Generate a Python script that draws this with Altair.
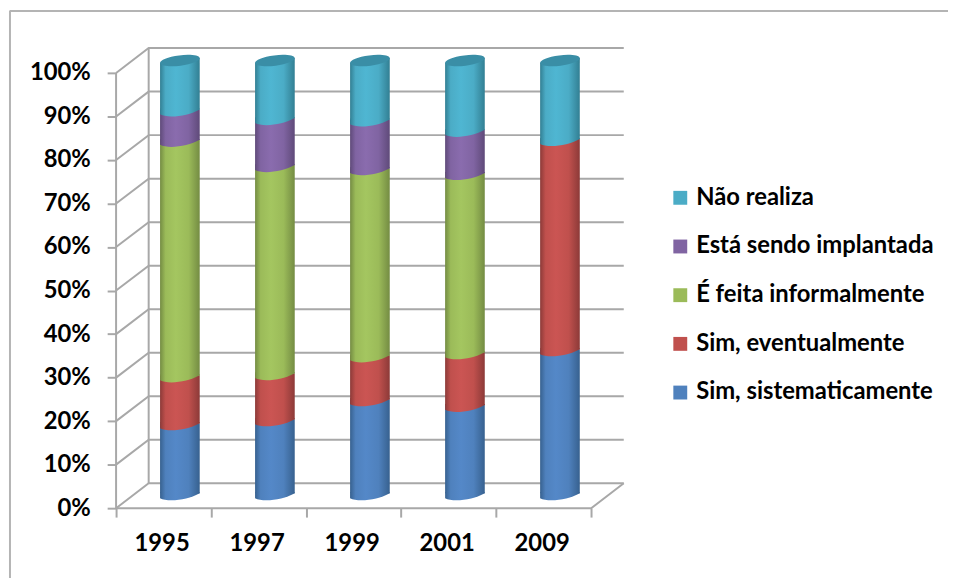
import altair as alt
import pandas as pd

years = ["1995", "1997", "1999", "2001", "2009"]
sistematicamente = [16.1, 17.0, 21.6, 20.3, 33.1]
eventualmente = [11.0, 10.6, 10.1, 12.1, 48.3]
informalmente = [54.1, 47.8, 43.0, 41.2, 0.0]
implantada = [7.0, 10.8, 11.2, 9.9, 0.0]
nao_realiza = [11.8, 13.8, 14.1, 16.5, 18.6]

series_names = ["Sim, sistematicamente", "Sim, eventualmente", "É feita informalmente",
                "Está sendo implantada", "Não realiza"]
series_values = [sistematicamente, eventualmente, informalmente, implantada, nao_realiza]
base_colors = ["#4f81bd", "#c0504d", "#9bbb59", "#8064a2", "#4bacc6"]
light_colors = ["#5488c8", "#cb5553", "#a4c660", "#8a6cae", "#4fb6d2"]
dark_colors = ["#37618f", "#8c3a38", "#748c43", "#5f4a79", "#327f93"]
cap_colors = ["#3a8ea6"]
legend_order = ["Não realiza", "Está sendo implantada", "É feita informalmente",
                "Sim, eventualmente", "Sim, sistematicamente"]
grid_ticks = [0, 10, 20, 30, 40, 50, 60, 70, 80, 90, 100]

# 3D depth of the box, in axis units
DX = 0.343
DY = 5.72
TILT = 0.57
GRID = "#a8a8a8"
FONT = "Lato"

xscale = alt.Scale(domain=[0, 5 + DX], nice=False, zero=False, padding=0)
yscale = alt.Scale(domain=[0, 100 + DY], nice=False, zero=False, padding=0)
xaxis = alt.Axis(values=list(range(6)), labels=False, title=None, domain=False, grid=False,
                 tickSize=9, tickWidth=2, tickColor=GRID)
yaxis = alt.Axis(values=grid_ticks, labelExpr="datum.value + '%'", title=None, domain=False, grid=False,
                 tickSize=9, tickWidth=2, tickColor=GRID, labelFont=FONT, labelFontWeight="bold",
                 labelFontSize=24, labelColor="black", labelPadding=17)
X = lambda f="x": alt.X(f"{f}:Q", scale=xscale, axis=xaxis)
Y = lambda f="y": alt.Y(f"{f}:Q", scale=yscale, axis=yaxis)


def grad(i):
    return alt.LinearGradient(
        gradient="linear", x1=0, x2=1, y1=0, y2=0,
        stops=[
            alt.GradientStop(color=dark_colors[i], offset=0),
            alt.GradientStop(color=base_colors[i], offset=0.14),
            alt.GradientStop(color=light_colors[i], offset=0.4),
            alt.GradientStop(color=base_colors[i], offset=0.72),
            alt.GradientStop(color=dark_colors[i], offset=1),
        ],
    )


# wall and floor lines
grid_rows = []
for t in grid_ticks:
    grid_rows += [
        {"p": t, "o": 0, "x": 0, "y": t},
        {"p": t, "o": 1, "x": DX, "y": t + DY},
        {"p": t, "o": 2, "x": 5 + DX, "y": t + DY},
    ]
grid_df = pd.DataFrame(grid_rows)
grid = alt.Chart(grid_df).mark_line(color=GRID, strokeWidth=2).encode(
    x=X(), y=Y(), detail="p:N", order="o:Q")
floor = alt.Chart(pd.DataFrame({"x": [0, 5, 5 + DX], "y": [0, 0, DY], "o": [0, 1, 2]})).mark_line(
    color=GRID, strokeWidth=2).encode(x=X(), y=Y(), order="o:Q")
wall_front = alt.Chart(pd.DataFrame({"x": [0], "y": [0], "y2": [100]})).mark_rule(
    color=GRID, strokeWidth=2).encode(x=X(), y=Y(), y2="y2:Q")
wall_back = alt.Chart(pd.DataFrame({"x": [DX], "y": [DY], "y2": [100 + DY]})).mark_rule(
    color=GRID, strokeWidth=2).encode(x=X(), y=Y(), y2="y2:Q")

# cylinders
SKIRT = "M-1,0.125 C-0.6,0.34 0.4,0.22 1,-0.125 L1,-0.17 L-1,-0.17 Z"
WEDGE = "M-1,0.13 L1,0.13 L1,-0.13 Z"
ELLIPSE = "M-1,0.125 A1,0.26 -7 1 1 1,-0.125 A1,0.26 -7 1 1 -1,0.125 Z"

layers = []
cum = [0.0] * len(years)
for i, vals in enumerate(series_values):
    rows = []
    for j, v in enumerate(vals):
        if v > 0:
            rows.append({"x": j + 0.5 + DX / 2, "lo": cum[j] + DY / 2, "hi": cum[j] + v + DY / 2})
        cum[j] += v
    df = pd.DataFrame(rows)
    df["b0"] = df["lo"] + TILT
    df["b1"] = df["hi"] + (TILT if i < len(series_values) - 1 else -TILT)
    layers.append(alt.Chart(df).mark_bar(size=40, color=grad(i), strokeWidth=0).encode(
        x=X(), y=Y("b0"), y2="b1:Q"))
    layers.append(alt.Chart(df).mark_point(shape=SKIRT, size=1600, filled=True, opacity=1,
                                           color=grad(i), strokeWidth=0).encode(x=X(), y=Y("lo")))
    if i == len(series_values) - 1:
        layers.append(alt.Chart(df).mark_point(shape=WEDGE, size=1600, filled=True, opacity=1,
                                               color=grad(i), strokeWidth=0).encode(x=X(), y=Y("hi")))
        layers.append(alt.Chart(df).mark_point(shape=ELLIPSE, size=1600, filled=True, opacity=1,
                                               color=cap_colors[0], strokeWidth=0).encode(x=X(), y=Y("hi")))

# category labels
year_df = pd.DataFrame({"year": years, "x": [j + 0.5 for j in range(len(years))], "y": [0] * len(years)})
year_text = alt.Chart(year_df).mark_text(
    font=FONT, fontWeight="bold", fontSize=24, color="black", dy=43, dx=-1.5, baseline="alphabetic",
).encode(x=X(), y=Y(), text="year:N")

# legend
legend_df = pd.DataFrame({"serie": legend_order})
legend_layer = alt.Chart(legend_df).mark_square(size=0, opacity=0).encode(
    color=alt.Color("serie:N", scale=alt.Scale(domain=legend_order,
                                               range=base_colors[::-1]),
                    legend=alt.Legend(
                        title=None, orient="none", legendX=557, legendY=139,
                        symbolType="square", symbolSize=196, symbolOpacity=1, symbolStrokeWidth=0,
                        labelFont=FONT, labelFontWeight="bold", labelFontSize=24, labelColor="black",
                        labelLimit=320, labelOffset=4, rowPadding=25.1,
                    )),
)

# outer frame
frame_h = alt.Chart(pd.DataFrame({"a": [0]})).mark_rule(color="#b4b4b4", strokeWidth=2).encode(
    x=alt.value(-107), x2=alt.value(840), y=alt.value(-37.5))
frame_v = alt.Chart(pd.DataFrame({"a": [0]})).mark_rule(color="#b4b4b4", strokeWidth=2).encode(
    x=alt.value(-107), y=alt.value(-38), y2=alt.value(540))

chart = alt.layer(frame_h, frame_v, grid, floor, wall_front, wall_back, *layers, year_text, legend_layer).properties(
    width=512, height=464,
    padding={"left": 109, "top": 38, "right": 327, "bottom": 68},
    autosize=alt.AutoSizeParams(type="none"),
).configure_view(stroke=None)

chart.save("out.html", embed_options={"renderer": "svg", "actions": False})
